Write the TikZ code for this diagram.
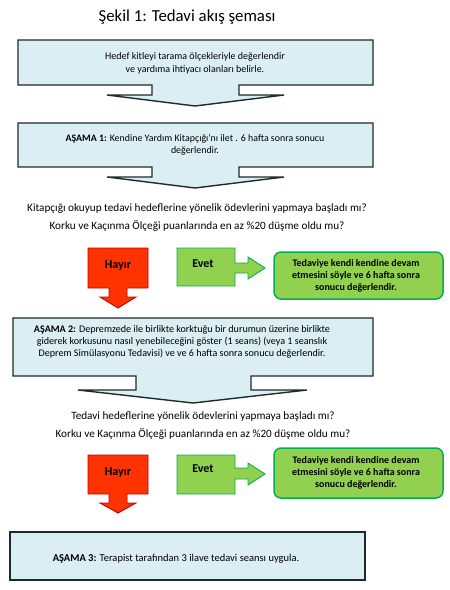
\documentclass[tikz,border=0pt]{standalone}
\usepackage{fontspec}
\setmainfont{Carlito}
\begin{document}
\begin{tikzpicture}[x=1pt,y=-1pt,
  bluebox/.style={fill=blueF,draw=blueD,line width=1.4pt,line join=miter},
  redbox/.style={fill=redF,draw=redD,line width=0.9pt},
  greenbox/.style={fill=greenF,draw=greenD,line width=0.9pt},
  gbox/.style={fill=greenF,draw=greenD,line width=1.5pt,rounded corners=7pt},
  txt/.style={inner sep=0pt,align=center,font=\fontsize{10}{13.5}\selectfont},
  qtxt/.style={inner sep=0pt,align=center,font=\fontsize{11.2}{18}\selectfont},
  lbl/.style={inner sep=0pt,font=\fontsize{12}{14}\selectfont\bfseries},
  gtxt/.style={inner sep=0pt,align=center,font=\fontsize{10}{12}\selectfont\bfseries}]
\definecolor{blueF}{HTML}{DAEEF3}
\definecolor{blueD}{HTML}{1E2B2B}
\definecolor{redF}{HTML}{FF3300}
\definecolor{redD}{HTML}{C00000}
\definecolor{greenF}{HTML}{92D050}
\definecolor{greenD}{HTML}{00B050}
\useasboundingbox (0,0) rectangle (450,590);
\fill[white] (0,0) rectangle (450,590);

\node[inner sep=0pt,font=\fontsize{16.8}{19}\selectfont] (title) at (187,17) {Şekil 1: Tedavi akış şeması};

% box 1
\draw[bluebox] (18,40) -- (373,40) -- (373,85) -- (239,85) -- (239,95) -- (284,95) -- (195,106) -- (107,95) -- (152,95) -- (152,85) -- (18,85) -- cycle;
\node[txt] (b1) at (195,63.5) {Hedef kitleyi tarama ölçekleriyle değerlendir\\ve yardıma ihtiyacı olanları belirle.};

% box 2
\draw[bluebox] (18,123) -- (373,123) -- (373,167) -- (239,167) -- (239,177) -- (284,177) -- (195,188) -- (107,177) -- (152,177) -- (152,167) -- (18,167) -- cycle;
\node[txt,font=\fontsize{9.9}{12}\selectfont] (b2) at (195,144.5) {\textbf{AŞAMA 1:} Kendine Yardım Kitapçığı'nı ilet . 6 hafta sonra sonucu\\değerlendir.};

\node[qtxt] (q1) at (197,218) {Kitapçığı okuyup tedavi hedeflerine yönelik ödevlerini yapmaya başladı mı?\\Korku ve Kaçınma Ölçeği puanlarında en az \%20 düşme oldu mu?};

% decision 1
\draw[redbox] (88,248) -- (148,248) -- (148,288) -- (127,288) -- (127,297) -- (136,297) -- (118,308) -- (100,297) -- (109,297) -- (109,288) -- (88,288) -- cycle;
\node[lbl] (h1) at (118,266) {Hayır};
\draw[greenbox] (177,248) -- (235,248) -- (235,263) -- (248,263) -- (248,257) -- (265,268) -- (248,279) -- (248,273) -- (235,273) -- (235,286) -- (177,286) -- cycle;
\node[lbl] (e1) at (203,264) {Evet};
\draw[gbox] (274,252) rectangle (443,299);
\node[gtxt] (g1) at (356,275.5) {Tedaviye kendi kendine devam\\etmesini söyle ve 6 hafta sonra\\sonucu değerlendir.};

% box 3
\draw[bluebox] (13,318) -- (373,318) -- (373,376) -- (251,376) -- (251,390) -- (307,390) -- (193,403) -- (78,390) -- (136,390) -- (136,376) -- (13,376) -- cycle;
\node[txt,font=\fontsize{10.1}{11.7}\selectfont] (b3) at (182,342) {\textbf{AŞAMA 2:} Depremzede ile birlikte korktuğu bir durumun üzerine birlikte\\giderek korkusunu nasıl yenebileceğini göster (1 seans) (veya 1 seanslık\\Deprem Simülasyonu Tedavisi) ve ve 6 hafta sonra sonucu değerlendir.};

\node[qtxt] (q2) at (203,425.5) {Tedavi hedeflerine yönelik ödevlerini yapmaya başladı mı?\\Korku ve Kaçınma Ölçeği puanlarında en az \%20 düşme oldu mu?};

% decision 2
\draw[redbox] (88,455) -- (148,455) -- (148,494) -- (127,494) -- (127,503) -- (136,503) -- (118,513) -- (100,503) -- (109,503) -- (109,494) -- (88,494) -- cycle;
\node[lbl] (h2) at (118,473) {Hayır};
\draw[greenbox] (177,455) -- (235,455) -- (235,468) -- (248,468) -- (248,463) -- (265,474) -- (248,485) -- (248,479) -- (235,479) -- (235,494) -- (177,494) -- cycle;
\node[lbl] (e2) at (203,469) {Evet};
\draw[gbox] (274,448) rectangle (443,498);
\node[gtxt] (g2) at (356,473) {Tedaviye kendi kendine devam\\etmesini söyle ve 6 hafta sonra\\sonucu değerlendir.};

% box 4
\draw[bluebox] (10,532) rectangle (365,580);
\node[txt,font=\fontsize{10.5}{12}\selectfont] (b4) at (176,559) {\textbf{AŞAMA 3:} Terapist tarafından 3 ilave tedavi seansı uygula.};
\end{tikzpicture}
\end{document}
